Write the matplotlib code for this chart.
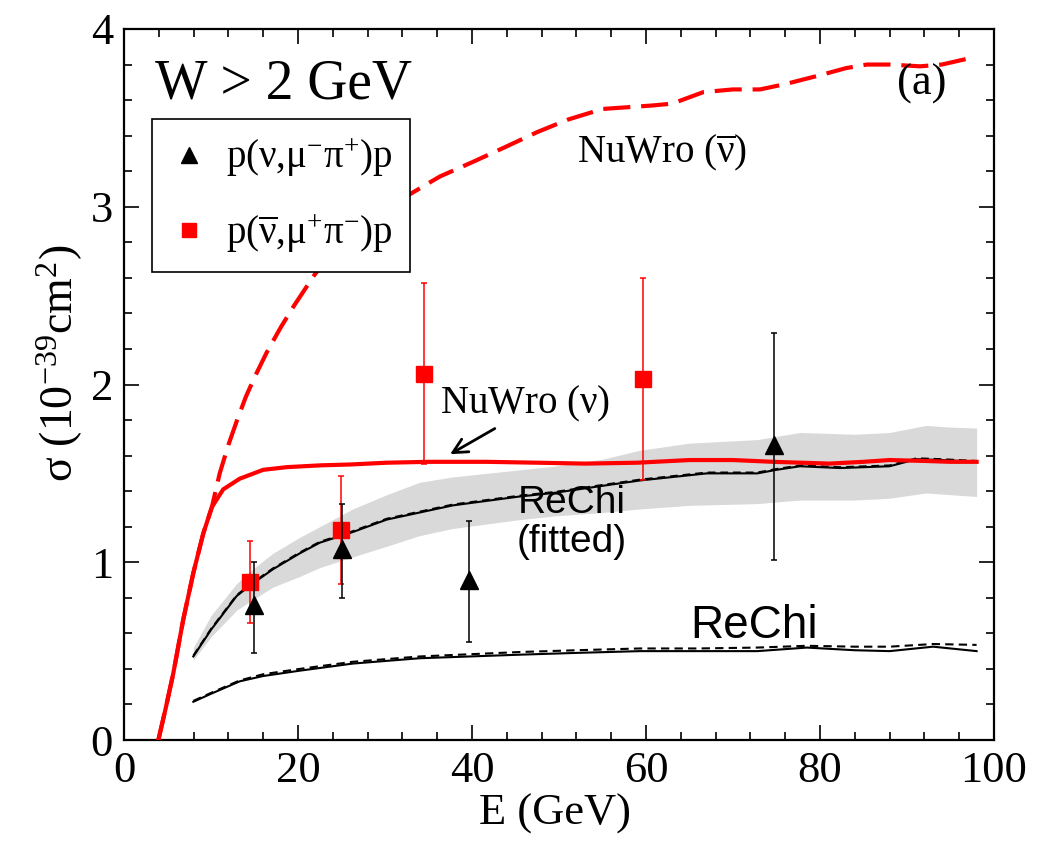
import numpy as np
import matplotlib
matplotlib.use("Agg")
import matplotlib.pyplot as plt
from matplotlib.lines import Line2D

plt.rcParams['font.family'] = ['Liberation Serif', 'DejaVu Serif']
plt.rcParams['mathtext.fontset'] = 'custom'
plt.rcParams['mathtext.rm'] = 'Liberation Serif'
plt.rcParams['mathtext.it'] = 'Liberation Serif:italic'
plt.rcParams['mathtext.bf'] = 'Liberation Serif:bold'

# NuWro (nu), solid red
nuwro_nu_E = [3.95, 4.8, 5.67, 6.8, 7.97, 9.1, 10.1, 11.4, 13.3, 16.0, 18.7, 22.5, 26,
              30.2, 35, 41.7, 47.5, 53, 59, 65, 70, 74.6, 81.1, 85, 88, 92, 95, 98]
nuwro_nu_s = [0, 0.18, 0.376, 0.675, 0.94, 1.16, 1.31, 1.41, 1.47, 1.52, 1.535, 1.545, 1.55,
              1.56, 1.565, 1.565, 1.56, 1.555, 1.56, 1.575, 1.575, 1.565, 1.555, 1.565,
              1.575, 1.57, 1.565, 1.565]

# NuWro (nubar), dashed red
nuwro_nub_E = [3.95, 4.8, 5.67, 6.8, 7.97, 9.1, 10.1, 11.0, 12.0, 13.0, 14.0, 15.0, 16.4,
               18.0, 19.5, 21.8, 24, 26.3, 29, 32.5, 36.3, 40, 44, 47.5, 51, 55, 60.8, 63,
               66.6, 70, 73.1, 76, 80, 83, 85.4, 88, 91.5, 94, 97.6]
nuwro_nub_s = [0, 0.18, 0.376, 0.675, 0.94, 1.16, 1.31, 1.50, 1.66, 1.80, 1.93, 2.04, 2.18,
               2.32, 2.44, 2.61, 2.76, 2.88, 2.98, 3.06, 3.17, 3.25, 3.34, 3.42, 3.49, 3.55,
               3.57, 3.58, 3.645, 3.66, 3.66, 3.69, 3.74, 3.78, 3.80, 3.80, 3.79, 3.80, 3.84]

# ReChi (fitted) + uncertainty band
fit_E = [7.97, 10, 12.95, 14.5, 17.1, 20.2, 22.5, 26.3, 30.2, 34, 37.8, 45.5, 49.4, 55,
         59.3, 67, 72.8, 75, 77.7, 82.3, 88, 91.1, 94, 98]
fit_s = [0.47, 0.62, 0.81, 0.87, 0.96, 1.05, 1.11, 1.17, 1.24, 1.28, 1.32, 1.37, 1.39, 1.43,
         1.46, 1.50, 1.50, 1.52, 1.54, 1.53, 1.54, 1.58, 1.575, 1.565]
fit_s_dash = [0.475, 0.625, 0.815, 0.875, 0.965, 1.055, 1.115, 1.175, 1.245, 1.285, 1.325,
              1.375, 1.395, 1.435, 1.465, 1.505, 1.505, 1.525, 1.545, 1.535, 1.545, 1.585,
              1.58, 1.57]
band_E = [7.97, 10, 12.95, 14.5, 17.1, 20.2, 22.5, 26.3, 30.2, 34, 37.8, 45.5, 49.4, 55,
          59.3, 65, 72.8, 77.7, 84, 88, 92.2, 95, 98]
band_lo = [0.45, 0.58, 0.73, 0.78, 0.86, 0.92, 0.97, 1.03, 1.09, 1.15, 1.19, 1.24, 1.26,
           1.28, 1.30, 1.32, 1.33, 1.35, 1.35, 1.36, 1.39, 1.38, 1.37]
band_hi = [0.52, 0.70, 0.88, 0.95, 1.05, 1.14, 1.20, 1.30, 1.38, 1.45, 1.48, 1.52, 1.54,
           1.58, 1.63, 1.67, 1.69, 1.73, 1.72, 1.73, 1.77, 1.76, 1.755]

# ReChi (not fitted)
rechi_E = [7.97, 10, 13.3, 16, 20.2, 26.3, 34, 45.5, 52, 59.3, 66, 72.8, 78.5, 84, 88, 93, 98]
rechi_s = [0.215, 0.26, 0.33, 0.36, 0.39, 0.43, 0.46, 0.48, 0.49, 0.50, 0.50, 0.50, 0.52,
           0.505, 0.50, 0.525, 0.50]
rechi_s_dash = [0.22, 0.265, 0.335, 0.37, 0.40, 0.44, 0.47, 0.495, 0.505, 0.515, 0.515,
                0.52, 0.53, 0.525, 0.525, 0.54, 0.535]

# data: p(nu, mu- pi+) p
nu_E = [14.9, 25.0, 39.7, 74.7]
nu_s = [0.76, 1.075, 0.90, 1.66]
nu_lo = [0.49, 0.80, 0.55, 1.01]
nu_hi = [1.00, 1.33, 1.23, 2.29]

# data: p(nubar, mu+ pi-) p
nub_E = [14.5, 24.9, 34.5, 59.7]
nub_s = [0.89, 1.18, 2.06, 2.03]
nub_lo = [0.66, 0.88, 1.55, 1.46]
nub_hi = [1.12, 1.485, 2.57, 2.60]

fig = plt.figure(figsize=(10.38, 8.51), dpi=100)
ax = fig.add_axes([124 / 1038, 111 / 851, 870 / 1038, 711 / 851])

ax.fill_between(band_E, band_lo, band_hi, color='#d9d9d9', lw=0, zorder=1)
ax.plot(rechi_E, rechi_s_dash, color='black', lw=1.5, dashes=(4, 2.5), zorder=2)
ax.plot(rechi_E, rechi_s, color='black', lw=1.5, zorder=2)
ax.plot(fit_E, fit_s_dash, color='black', lw=1.4, dashes=(4, 2.5), zorder=2)
ax.plot(fit_E, fit_s, color='black', lw=1.5, zorder=2)
ax.plot(nuwro_nu_E, nuwro_nu_s, color='#ff0000', lw=3, zorder=3)
ax.plot(nuwro_nub_E, nuwro_nub_s, color='#ff0000', lw=3, dashes=(6.5, 2.6), zorder=3)

nu_err = [np.array(nu_s) - np.array(nu_lo), np.array(nu_hi) - np.array(nu_s)]
nub_err = [np.array(nub_s) - np.array(nub_lo), np.array(nub_hi) - np.array(nub_s)]
ax.errorbar(nub_E, nub_s, yerr=nub_err, fmt='s', color='#ff0000', ms=11, elinewidth=1.1,
            capsize=2.5, capthick=1.1, zorder=4)
ax.errorbar(nu_E, nu_s, yerr=nu_err, fmt='^', color='black', ms=12.5, elinewidth=1.1,
            capsize=2.5, capthick=1.1, zorder=5)

ax.set_xlim(0, 100)
ax.set_ylim(0, 4)
ax.set_xticks([0, 20, 40, 60, 80, 100])
ax.set_xticks(np.arange(0, 101, 4), minor=True)
ax.set_yticks([0, 1, 2, 3, 4])
ax.set_yticks(np.arange(0, 4.01, 0.2), minor=True)
ax.tick_params(which='both', direction='in', top=True, right=True, width=1.2,
               labelsize=32, pad=8)
ax.tick_params(which='major', length=11)
ax.tick_params(which='minor', length=6)
for sp in ax.spines.values():
    sp.set_linewidth(1.6)

ax.set_xlabel('E (GeV)', fontsize=32)
ax.xaxis.set_label_coords(0.495, -0.075)
ax.set_ylabel(r'$\mathrm{\sigma\ (10^{-39}cm^{2})}$', fontsize=33)
ax.yaxis.set_label_coords(-0.045, 0.53)

ax.text(3.6, 3.61, 'W > 2 GeV', fontsize=40, va='baseline')
ax.text(88.9, 3.63, '(a)', fontsize=32, va='baseline')
ax.text(52.1, 3.25, r'NuWro ($\mathrm{\overline{\nu}}$)', fontsize=28, va='baseline')
ax.text(36.3, 1.84, r'NuWro ($\mathrm{\nu}$)', fontsize=28, va='baseline')
ax.text(45.3, 1.277, 'ReChi', fontsize=28, family='Liberation Sans', va='baseline')
ax.text(45.1, 1.06, '(fitted)', fontsize=28, family='Liberation Sans', va='baseline')
ax.text(65.1, 0.574, 'ReChi', fontsize=33, family='Liberation Sans', va='baseline')
ax.annotate('', xy=(37.2, 1.60), xytext=(42.9, 1.76),
            arrowprops=dict(arrowstyle='->', color='black', lw=2.0, mutation_scale=26))

handles = [Line2D([], [], ls='none', marker='^', color='black', ms=11),
           Line2D([], [], ls='none', marker='s', color='#ff0000', ms=10.5)]
labels = [r'$\mathrm{p(\nu{,}\mu^{-}\pi^{+})p}$',
          r'$\mathrm{p(\overline{\nu}{,}\mu^{+}\pi^{-})p}$']
leg = ax.legend(handles, labels, loc='upper left', bbox_to_anchor=(0.032, 0.873),
                borderaxespad=0, fontsize=28, handlelength=1.0, handletextpad=0.45,
                borderpad=0.45, labelspacing=0.85, fancybox=False, framealpha=1,
                edgecolor='black')
leg.get_frame().set_linewidth(1.2)

fig.savefig('out.png', dpi=100)
